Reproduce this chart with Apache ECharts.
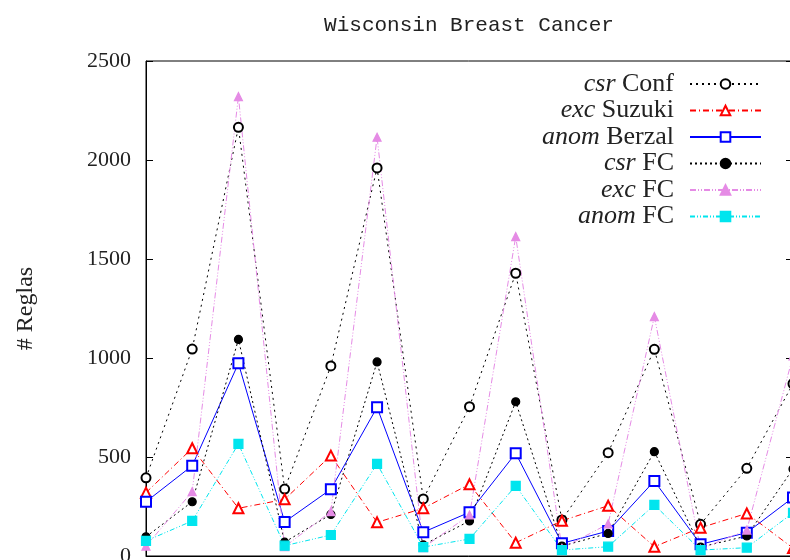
<!DOCTYPE html>
<html>
<head>
<meta charset="utf-8">
<script src="https://cdn.jsdelivr.net/npm/echarts@6/dist/echarts.min.js"></script>
<style>html,body{margin:0;padding:0;background:#fff}#c{width:790px;height:560px}</style>
</head>
<body>
<div id="c"></div>
<script>
var categories = ['1','2','3','4','5','6','7','8','9','10','11','12','13','14','15'];
var yTicks = [0, 500, 1000, 1500, 2000, 2500];
var csrConf    = [395, 1045, 2165, 338, 960, 1960, 288, 754, 1428, 182, 522, 1044, 160, 443, 870];
var excSuzuki  = [320, 544, 241, 286, 507, 170, 241, 362, 67, 178, 254, 47, 143, 215, 40];
var anomBerzal = [274, 456, 973, 172, 337, 751, 120, 221, 519, 64, 126, 379, 59, 118, 295];
var csrFC      = [97, 274, 1094, 70, 210, 980, 56, 177, 779, 50, 114, 527, 45, 101, 440];
var excFC      = [50, 325, 2320, 47, 224, 2115, 42, 207, 1613, 39, 162, 1209, 35, 131, 1010];
var anomFC     = [76, 177, 566, 52, 106, 465, 45, 86, 354, 30, 47, 258, 30, 42, 218];

var serif = 'Liberation Serif';
var chart = echarts.init(document.getElementById('c'));
function mk(name, data, color, type, symbol, size, width) {
  return {
    name: name, type: 'line', data: data, symbol: symbol, symbolSize: size,
    showAllSymbol: true, animation: false,
    lineStyle: { color: color, width: width || 1, type: type },
    itemStyle: { color: color, borderColor: color, borderWidth: 1.2 },
    emphasis: { disabled: true }
  };
}
var names = {
  'csr Conf': '{i|csr} Conf', 'exc Suzuki': '{i|exc} Suzuki', 'anom Berzal': '{i|anom} Berzal',
  'csr FC': '{i|csr} FC', 'exc FC': '{i|exc} FC', 'anom FC': '{i|anom} FC'
};
chart.setOption({
  animation: false,
  title: {
    text: 'Wisconsin Breast Cancer', left: 464, textAlign: 'center', top: 10,
    textStyle: { fontFamily: 'Liberation Mono', fontSize: 21, fontWeight: 'normal', color: '#222' }
  },
  grid: { left: 146, top: 61, width: 647, bottom: 4, show: true, borderColor: '#000', borderWidth: 1,
    containLabel: false, outerBoundsMode: 'none' },
  legend: {
    orient: 'vertical', right: 23, top: 66, align: 'right',
    itemWidth: 71, itemHeight: 12, itemGap: 0.5,
    formatter: function (n) { return names[n]; },
    textStyle: {
      fontFamily: serif, fontSize: 26, color: '#222', padding: [0, 11, 0, 0], lineHeight: 20,
      rich: { i: { fontFamily: serif, fontSize: 26, fontStyle: 'italic', color: '#222', lineHeight: 20 } }
    }
  },
  xAxis: {
    type: 'category', data: categories, boundaryGap: false,
    axisLine: { show: true, lineStyle: { color: '#000' } }, axisTick: { show: false }, axisLabel: { show: false },
    splitLine: { show: false }
  },
  yAxis: [{
    type: 'value', min: 0, max: 2500, interval: 500,
    axisLine: { show: true, lineStyle: { color: '#000' } },
    axisTick: { show: true, inside: true, length: 7, lineStyle: { color: '#000' } },
    axisLabel: { margin: 15, fontFamily: serif, fontSize: 22, color: '#222',
      customValues: yTicks, formatter: function (v) { return String(v); } },
    splitLine: { show: false },
    name: '# Reglas', nameLocation: 'middle', nameGap: 108, nameRotate: 90,
    nameTextStyle: { fontFamily: serif, fontSize: 24, color: '#222' }
  }, {
    type: 'value', min: 0, max: 2500, interval: 500, position: 'right',
    axisLine: { show: true, lineStyle: { color: '#000' } },
    axisTick: { show: true, inside: true, length: 7, lineStyle: { color: '#000' } },
    axisLabel: { show: false }, splitLine: { show: false }
  }],
  series: [
    mk('csr Conf', csrConf, '#000', [2, 4], 'emptyCircle', 9),
    mk('exc Suzuki', excSuzuki, '#ff0000', [6, 3, 1, 3], 'emptyTriangle', 10),
    mk('anom Berzal', anomBerzal, '#0000ff', 'solid', 'emptyRect', 10),
    mk('csr FC', csrFC, '#000', [2, 3], 'circle', 8),
    mk('exc FC', excFC, '#e58be5', [6, 2, 1, 2, 1, 2], 'triangle', 8),
    mk('anom FC', anomFC, '#00e5ee', [5, 2, 1, 2, 1, 2], 'rect', 9)
  ]
});
</script>
</body>
</html>
